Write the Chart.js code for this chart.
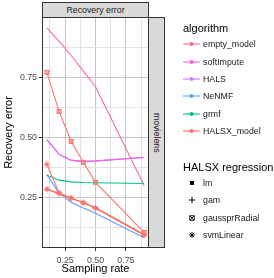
<!DOCTYPE html>
<html><head><meta charset="utf-8">
<script src="https://cdn.jsdelivr.net/npm/chart.js@4.4.0/dist/chart.umd.min.js"></script>
<style>
html,body{margin:0;padding:0;background:#fff;}
#wrap{position:relative;width:274px;height:278px;overflow:hidden;font-family:"Liberation Sans",Arial,Helvetica,sans-serif;}
#c{position:absolute;left:0;top:0;}
.abs{position:absolute;white-space:nowrap;}
.strip{background:#d9d9d9;border:1px solid #333;box-sizing:border-box;display:flex;align-items:center;justify-content:center;font-size:8.8px;color:#1a1a1a;}
.ttl{font-size:11px;color:#000;line-height:12px;}
.lab{font-size:8.8px;color:#1a1a1a;line-height:10px;}
svg{position:absolute;overflow:visible;}
</style></head><body>
<div id="wrap">
<canvas id="c" width="274" height="278"></canvas>
<div class="abs strip" style="left:42px;top:2px;width:107px;height:16px;">Recovery error</div>
<div class="abs strip" style="left:148px;top:17px;width:17px;height:231px;"><span style="writing-mode:vertical-rl;">movielens</span></div>
<div id="legend"></div>
</div>
<script>
// ---- data ----
const samplingRate = [0.1, 0.2, 0.3, 0.4, 0.5, 0.9];
const algorithms = ["empty_model", "softImpute", "HALS", "NeNMF", "grmf", "HALSX_model"];
const regressions = ["lm", "gam", "gaussprRadial", "svmLinear"];
const emptyModel = [0.955, 0.900, 0.840, 0.775, 0.710, 0.300];
const softImpute = [0.490, 0.430, 0.405, 0.400, 0.402, 0.417];
const hals = [0.489, 0.429, 0.404, 0.399, 0.401, 0.416];
const neNMF = [0.345, 0.268, 0.230, 0.206, 0.184, 0.083];
const grmf = [0.342, 0.322, 0.315, 0.312, 0.311, 0.308];
const halsxLm = [0.285, 0.268, 0.247, 0.228, 0.206, 0.095];
const halsxGam = [0.283, 0.265, 0.246, 0.230, 0.207, 0.097];
const halsxGaussprRadial = [0.770, 0.608, 0.483, 0.396, 0.313, 0.105];
const halsxSvmLinear = [0.388, 0.270, 0.247, 0.228, 0.205, 0.093];
const xTicks = [0.125, 0.25, 0.375, 0.5, 0.625, 0.75, 0.875];
const yTicks = [0.125, 0.25, 0.375, 0.5, 0.625, 0.75, 0.875];
const majorTicks = [0.25, 0.5, 0.75];

const colors = {
  empty_model: "#FF64B0", softImpute: "#F564E3", HALS: "#C77CFF",
  NeNMF: "#619CFF", grmf: "#00C08B", HALSX_model: "#F8766D"
};

function boxX(color) {
  const c = document.createElement("canvas");
  c.width = 7; c.height = 7;
  const g = c.getContext("2d");
  g.strokeStyle = color; g.lineWidth = 1;
  g.strokeRect(1.5, 1.5, 4, 4);
  g.beginPath(); g.moveTo(1.5, 1.5); g.lineTo(5.5, 5.5); g.moveTo(5.5, 1.5); g.lineTo(1.5, 5.5); g.stroke();
  return c;
}

const pts = arr => samplingRate.map((x, i) => ({x: x, y: arr[i]}));
function lineDs(label, arr, color, extra) {
  return Object.assign({
    label: label, data: pts(arr), borderColor: color, backgroundColor: color,
    borderWidth: 1.1, pointRadius: 0, tension: 0, fill: false
  }, extra || {});
}
const sal = colors.HALSX_model;
const datasets = [
  lineDs("HALSX lm", halsxLm, sal, {pointStyle: "rect", pointRadius: 2.3, pointBorderWidth: 0.5}),
  lineDs("HALSX gam", halsxGam, sal, {pointStyle: "cross", pointRadius: 3, pointBorderWidth: 1}),
  lineDs("HALSX gaussprRadial", halsxGaussprRadial, sal, {pointStyle: boxX(sal), pointRadius: 3}),
  lineDs("HALSX svmLinear", halsxSvmLinear, sal, {pointStyle: "star", pointRadius: 3, pointBorderWidth: 1}),
  lineDs("grmf", grmf, colors.grmf),
  lineDs("NeNMF", neNMF, colors.NeNMF),
  lineDs("softImpute", softImpute, colors.softImpute),
  lineDs("HALS", hals, colors.HALS),
  lineDs("empty_model", emptyModel, colors.empty_model)
];

const isMajor = v => majorTicks.some(m => Math.abs(m - v) < 1e-9);
const gridColor = c => (c.tick && isMajor(c.tick.value)) ? "#c6c6c6" : "#e2e2e2";
const tickColor = c => (c.tick && isMajor(c.tick.value)) ? "#333333" : "rgba(0,0,0,0)";
const tickFont = {family: "'Liberation Sans', Arial, sans-serif", size: 8.8};
const titleFont = {family: "'Liberation Sans', Arial, sans-serif", size: 11};

const panelBorder = {
  id: "panelBorder",
  beforeDraw(chart) {
    const g = chart.ctx;
    g.save(); g.fillStyle = "#fff"; g.fillRect(0, 0, chart.width, chart.height); g.restore();
  },
  afterDatasetsDraw(chart) {
    const a = chart.chartArea, g = chart.ctx;
    g.save(); g.strokeStyle = "#333333"; g.lineWidth = 1;
    g.strokeRect(a.left + 0.5, a.top + 0.5, a.right - a.left - 1, a.bottom - a.top - 1);
    g.restore();
  }
};

new Chart(document.getElementById("c").getContext("2d"), {
  type: "line",
  data: {datasets: datasets},
  options: {
    responsive: false, animation: false, devicePixelRatio: 1,
    layout: {padding: {top: 17, right: 125, left: 0, bottom: 0}},
    plugins: {legend: {display: false}, tooltip: {enabled: false}},
    scales: {
      x: {
        type: "linear", min: 0.06, max: 0.94,
        afterBuildTicks: s => { s.ticks = xTicks.map(v => ({value: v})); },
        afterFit: s => { s.height = 30; },
        ticks: {autoSkip: false, maxRotation: 0, padding: 4, color: "#4d4d4d", font: tickFont,
          callback: v => isMajor(v) ? v.toFixed(2) : ""},
        grid: {color: gridColor, tickColor: tickColor, lineWidth: 1, tickLength: 3},
        border: {display: false},
        title: {display: true, text: "Sampling rate", color: "#000", font: titleFont, padding: {top: 0, bottom: 2}}
      },
      y: {
        type: "linear", min: 0.04, max: 1.0,
        afterBuildTicks: s => { s.ticks = yTicks.map(v => ({value: v})); },
        afterFit: s => { s.width = 42; },
        ticks: {autoSkip: false, padding: 2, color: "#4d4d4d", font: tickFont,
          callback: v => isMajor(v) ? v.toFixed(2) : ""},
        grid: {color: gridColor, tickColor: tickColor, lineWidth: 1, tickLength: 3},
        border: {display: false},
        title: {display: true, text: "Recovery error", color: "#000", font: titleFont, padding: {top: 2, bottom: 0}}
      }
    }
  },
  plugins: [panelBorder]
});

// ---- legends (HTML) ----
const L = document.getElementById("legend");
let html = '<div class="abs ttl" style="left:183px;top:22px;">algorithm</div>';
const rowY = [44.3, 61.6, 78.9, 96.2, 113.5, 130.8];
algorithms.forEach((a, i) => {
  const y = rowY[i];
  html += `<svg width="18" height="8" style="left:183px;top:${y - 4}px"><line x1="0" y1="4" x2="17" y2="4" stroke="${colors[a]}" stroke-width="1.1"/><circle cx="8.5" cy="4" r="2.1" fill="${colors[a]}"/></svg>`;
  html += `<div class="abs lab" style="left:203px;top:${y - 5}px;">${a}</div>`;
});
html += '<div class="abs ttl" style="left:183px;top:161px;">HALSX regression</div>';
const shapeY = [182.5, 200, 217.5, 234.5];
const shapes = [
  '<rect x="-2" y="-2" width="4" height="4" fill="#000"/>',
  '<path d="M-3 0H3M0 -3V3" stroke="#000" stroke-width="1"/>',
  '<rect x="-2.2" y="-2.2" width="4.4" height="4.4" fill="none" stroke="#000" stroke-width="0.9"/><path d="M-2.2 -2.2L2.2 2.2M2.2 -2.2L-2.2 2.2" stroke="#000" stroke-width="0.8"/>',
  '<path d="M-3 0H3M0 -3V3M-2.1 -2.1L2.1 2.1M2.1 -2.1L-2.1 2.1" stroke="#000" stroke-width="0.9"/>'
];
regressions.forEach((r, i) => {
  const y = shapeY[i];
  html += `<svg width="8" height="8" viewBox="-4 -4 8 8" style="left:187.5px;top:${y - 4}px">${shapes[i]}</svg>`;
  html += `<div class="abs lab" style="left:203px;top:${y - 5}px;">${r}</div>`;
});
L.innerHTML = html;
</script>
</body></html>
